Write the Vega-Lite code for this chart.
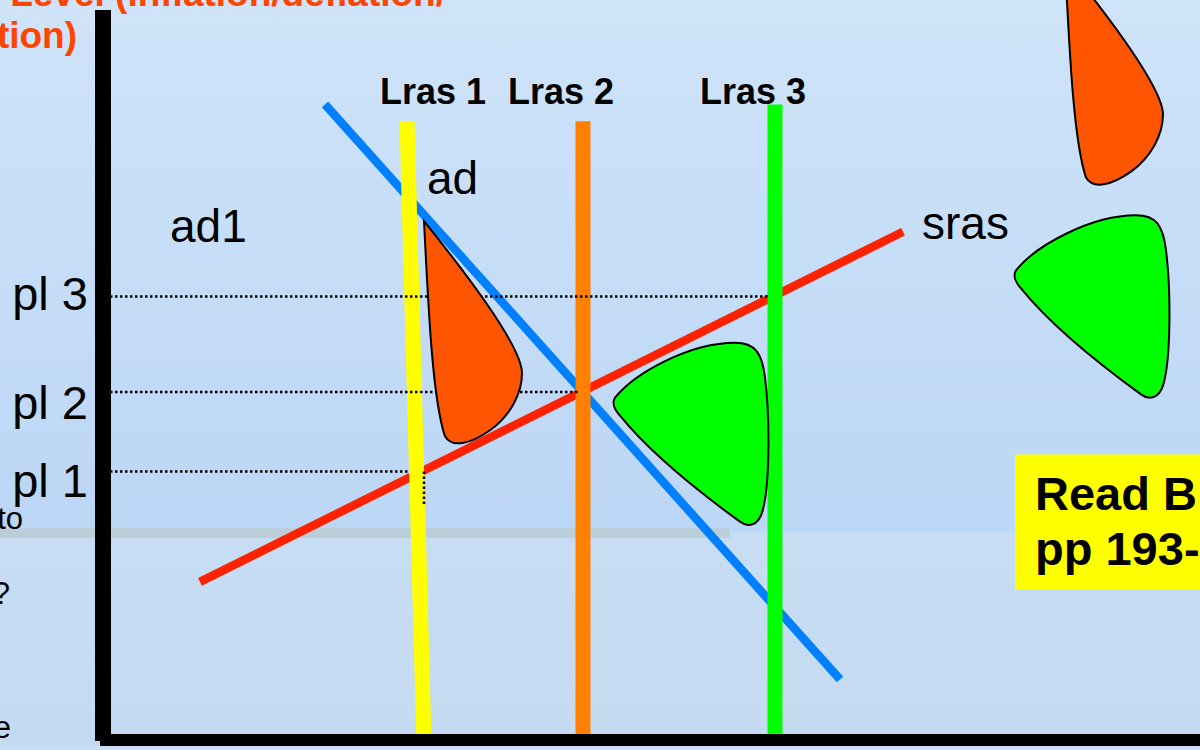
{
  "$schema": "https://vega.github.io/schema/vega-lite/v6.json",
  "width": 1200,
  "height": 750,
  "padding": 0,
  "autosize": {"type": "fit", "contains": "padding"},
  "background": "#c8dff5",
  "config": {"view": {"stroke": null}, "text": {"font": "Liberation Sans"}},
  "datasets": {
    "bg": [
      {"part": "upper", "x": 0, "x2": 1200, "y": 216, "y2": 750},
      {"part": "lower", "x": 0, "x2": 1200, "y": 0, "y2": 216},
      {"part": "band", "x": 0, "x2": 730, "y": 209, "y2": 219}
    ],
    "curves": [
      {"name": "ad", "x": 325, "y": 645, "x2": 840, "y2": 67},
      {"name": "sras", "x": 200, "y": 165, "x2": 903, "y2": 517}
    ],
    "lras": [
      {"name": "Lras 1", "x": 407, "y": 628, "x2": 424, "y2": 4},
      {"name": "Lras 2", "x": 583, "y": 628, "x2": 583, "y2": 4},
      {"name": "Lras 3", "x": 775, "y": 645, "x2": 775, "y2": 4}
    ],
    "levels": [
      {"level": "pl 3", "x": 110, "x2": 770, "y": 452, "y2": 452},
      {"level": "pl 2", "x": 110, "x2": 580, "y": 356, "y2": 356},
      {"level": "pl 1", "x": 110, "x2": 410, "y": 276, "y2": 276},
      {"level": "pl 1 drop", "x": 424, "x2": 424, "y": 276, "y2": 242}
    ],
    "red_blobs": [
      {"blob": "left", "x": 472, "y": 416},
      {"blob": "right", "x": 1113, "y": 676}
    ],
    "green_blobs": [
      {"blob": "middle", "x": 692, "y": 314},
      {"blob": "right", "x": 1093, "y": 442}
    ],
    "box": [{"x": 1015, "x2": 1200, "y": 157, "y2": 293}],
    "pl_labels": [
      {"label": "pl 3", "x": 88, "y": 438},
      {"label": "pl 2", "x": 88, "y": 329},
      {"label": "pl 1", "x": 88, "y": 250}
    ],
    "curve_labels": [
      {"label": "ad1", "x": 170, "y": 507},
      {"label": "ad", "x": 427, "y": 555},
      {"label": "sras", "x": 922, "y": 510}
    ],
    "lras_labels": [
      {"label": "Lras 1", "x": 380, "y": 645},
      {"label": "Lras 2", "x": 508, "y": 645},
      {"label": "Lras 3", "x": 700, "y": 645}
    ],
    "box_text": [
      {"label": "Read B", "x": 1035, "y": 237},
      {"label": "pp 193-", "x": 1035, "y": 182}
    ],
    "title_text": [
      {"label": "Level (inflation/deflation/", "x": 446, "y": 744},
      {"label": "tion)", "x": 77, "y": 702}
    ],
    "edge_text": [
      {"label": "to", "x": 23, "y": 218},
      {"label": "?", "x": 10, "y": 143},
      {"label": "e", "x": 11, "y": 8}
    ],
    "axes": [
      {"axis": "vertical", "x": 95, "x2": 111, "y": 5, "y2": 740},
      {"axis": "horizontal", "x": 100, "x2": 1200, "y": 0, "y2": 12}
    ]
  },
  "encoding": {
    "x": {"field": "x", "type": "quantitative", "scale": {"domain": [0, 1200], "nice": false, "zero": false}, "axis": null},
    "y": {"field": "y", "type": "quantitative", "scale": {"domain": [0, 750], "nice": false, "zero": false}, "axis": null}
  },
  "layer": [
    {
      "data": {"name": "bg"},
      "transform": [{"filter": "datum.part === 'upper'"}],
      "mark": {"type": "rect", "color": {"gradient": "linear", "x1": 0, "y1": 0, "x2": 0, "y2": 1, "stops": [{"offset": 0, "color": "#cfe4f9"}, {"offset": 1, "color": "#bcd6f5"}]}},
      "encoding": {"x2": {"field": "x2"}, "y2": {"field": "y2"}}
    },
    {
      "data": {"name": "bg"},
      "transform": [{"filter": "datum.part === 'lower'"}],
      "mark": {"type": "rect", "color": {"gradient": "linear", "x1": 0, "y1": 0, "x2": 0, "y2": 1, "stops": [{"offset": 0, "color": "#c6ddf3"}, {"offset": 1, "color": "#c3daf1"}]}},
      "encoding": {"x2": {"field": "x2"}, "y2": {"field": "y2"}}
    },
    {
      "data": {"name": "bg"},
      "transform": [{"filter": "datum.part === 'band'"}],
      "mark": {"type": "rect", "color": "#bccfd9"},
      "encoding": {"x2": {"field": "x2"}, "y2": {"field": "y2"}}
    },
    {
      "data": {"name": "curves"},
      "mark": {"type": "rule", "strokeWidth": 8.5, "strokeCap": "butt"},
      "encoding": {
        "x2": {"field": "x2"}, "y2": {"field": "y2"},
        "color": {"field": "name", "type": "nominal", "legend": null,
          "scale": {"domain": ["ad", "sras", "Lras 1", "Lras 2", "Lras 3"], "range": ["#0080ff", "#ff2200", "#ffff00", "#ff8000", "#00ff00"]}}
      }
    },
    {
      "data": {"name": "lras"},
      "mark": {"type": "rule", "strokeWidth": 15, "strokeCap": "butt"},
      "encoding": {
        "x2": {"field": "x2"}, "y2": {"field": "y2"},
        "color": {"field": "name", "type": "nominal", "legend": null,
          "scale": {"domain": ["ad", "sras", "Lras 1", "Lras 2", "Lras 3"], "range": ["#0080ff", "#ff2200", "#ffff00", "#ff8000", "#00ff00"]}}
      }
    },
    {
      "data": {"name": "levels"},
      "mark": {"type": "rule", "color": "black", "strokeWidth": 2.5, "strokeDash": [2.5, 2.5]},
      "encoding": {"x2": {"field": "x2"}, "y2": {"field": "y2"}}
    },
    {
      "data": {"name": "red_blobs"},
      "mark": {"type": "point", "clip": true, "filled": true, "opacity": 1, "size": 40000, "fill": "#ff5500", "stroke": "black", "strokeWidth": 2,
        "shape": "M -0.48 -1.11 C -0.44 -0.34 -0.40 0.66 -0.27 1.04 C -0.20 1.16 -0.02 1.12 0.18 0.98 C 0.38 0.84 0.50 0.61 0.50 0.41 C 0.50 0.16 -0.02 -0.54 -0.48 -1.11 Z"}
    },
    {
      "data": {"name": "green_blobs"},
      "mark": {"type": "point", "clip": true, "filled": true, "opacity": 1, "size": 40000, "fill": "#00ff00", "stroke": "black", "strokeWidth": 2,
        "shape": "M -0.77 -0.36 C -0.57 -0.61 -0.02 -0.91 0.43 -0.91 C 0.63 -0.91 0.70 -0.81 0.73 -0.56 C 0.78 -0.16 0.78 0.54 0.70 0.79 C 0.66 0.92 0.56 0.94 0.48 0.88 C 0.08 0.59 -0.42 0.19 -0.72 -0.18 C -0.79 -0.26 -0.80 -0.31 -0.77 -0.36 Z"}
    },
    {
      "data": {"name": "box"},
      "mark": {"type": "rect", "color": "#ffff00"},
      "encoding": {"x2": {"field": "x2"}, "y2": {"field": "y2"}}
    },
    {
      "data": {"name": "pl_labels"},
      "mark": {"type": "text", "align": "right", "baseline": "alphabetic", "fontSize": 47, "color": "black"},
      "encoding": {"text": {"field": "label"}}
    },
    {
      "data": {"name": "curve_labels"},
      "mark": {"type": "text", "align": "left", "baseline": "alphabetic", "fontSize": 46, "color": "black"},
      "encoding": {"text": {"field": "label"}}
    },
    {
      "data": {"name": "lras_labels"},
      "mark": {"type": "text", "align": "left", "baseline": "alphabetic", "fontSize": 36, "fontWeight": "bold", "color": "black"},
      "encoding": {"text": {"field": "label"}}
    },
    {
      "data": {"name": "box_text"},
      "mark": {"type": "text", "align": "left", "baseline": "alphabetic", "fontSize": 47, "fontWeight": "bold", "color": "black", "clip": true},
      "encoding": {"text": {"field": "label"}}
    },
    {
      "data": {"name": "title_text"},
      "mark": {"type": "text", "align": "right", "baseline": "alphabetic", "fontSize": 37, "fontWeight": "bold", "color": "#ff4400", "clip": true},
      "encoding": {"text": {"field": "label"}}
    },
    {
      "data": {"name": "edge_text"},
      "mark": {"type": "text", "align": "right", "baseline": "alphabetic", "fontSize": 31, "color": "black", "clip": true},
      "encoding": {"text": {"field": "label"}}
    },
    {
      "data": {"name": "axes"},
      "mark": {"type": "rect", "color": "black"},
      "encoding": {"x2": {"field": "x2"}, "y2": {"field": "y2"}}
    }
  ]
}
